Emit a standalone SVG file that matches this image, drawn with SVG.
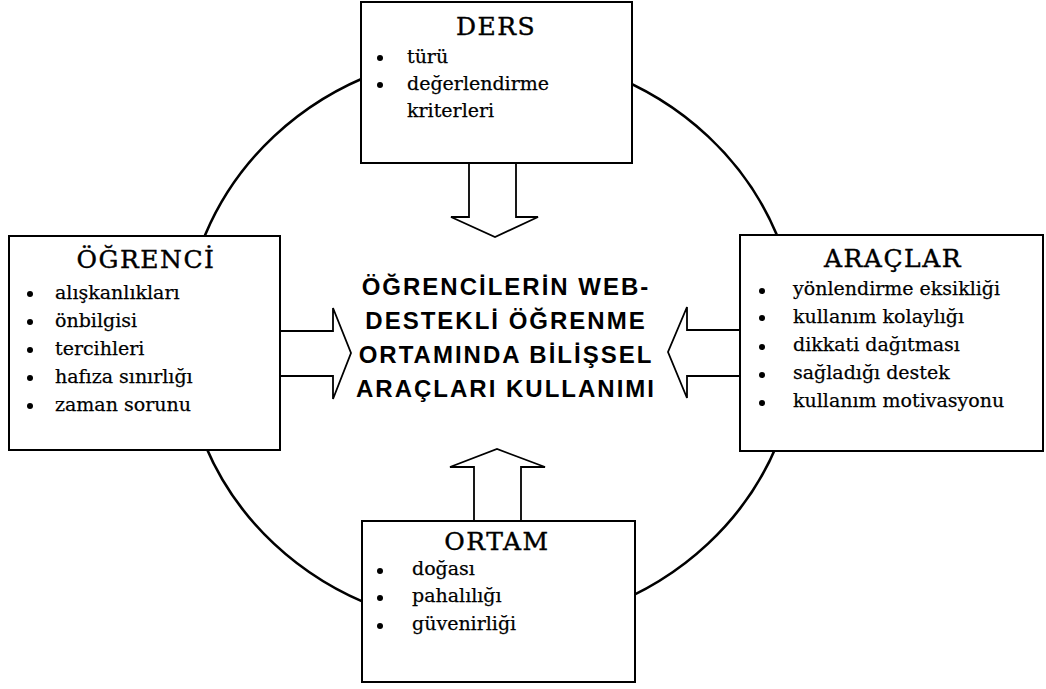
<svg xmlns="http://www.w3.org/2000/svg" width="1046" height="689" viewBox="0 0 1046 689">
<style>
.box{fill:#fff;stroke:#000;stroke-width:2}
.arr{fill:#fff;stroke:#000;stroke-width:1.8;stroke-linejoin:miter}
.ring{fill:none;stroke:#000;stroke-width:2.6}
.title{font-family:"DejaVu Serif","Liberation Serif",serif;font-size:25px;letter-spacing:1.5px;text-anchor:middle;fill:#000;stroke:#000;stroke-width:0.4}
.item{font-family:"DejaVu Serif","Liberation Serif",serif;font-size:19px;fill:#000;stroke:#000;stroke-width:0.25}
.center{font-family:"Liberation Sans",Arial,sans-serif;font-weight:bold;font-size:24px;letter-spacing:2px;text-anchor:middle;fill:#000}
.dot{fill:#000}
</style>
<rect width="1046" height="689" fill="#fff"/>
<g id="connectors">
<ellipse class="ring" cx="491" cy="340" rx="307" ry="288"/>
<path class="arr" d="M469,163 V217 H451 L495,237 L538,217 H516 V163"/>
<path class="arr" d="M474,521 V467 H450 L497,449 L545,467 H521 V521"/>
<path class="arr" d="M281,331 H333 V308 L351,353 L333,399 V376 H281"/>
<path class="arr" d="M740,330 H687 V307 L668,352 L687,398 V376 H740"/>
</g>
<g id="ders">
<rect class="box" x="361" y="2" width="271" height="161"/>
<text class="title" x="496" y="35">DERS</text>
<circle class="dot" cx="380" cy="58" r="3"/>
<circle class="dot" cx="380" cy="85" r="3"/>
<text class="item" x="407" y="63">türü</text>
<text class="item" x="407" y="90">değerlendirme</text>
<text class="item" x="407" y="117">kriterleri</text>
</g>
<g id="ogrenci">
<rect class="box" x="9" y="236" width="271" height="214"/>
<text class="title" x="146" y="268">ÖĞRENCİ</text>
<circle class="dot" cx="30" cy="294" r="3"/>
<circle class="dot" cx="30" cy="322" r="3"/>
<circle class="dot" cx="30" cy="350" r="3"/>
<circle class="dot" cx="30" cy="378" r="3"/>
<circle class="dot" cx="30" cy="406" r="3"/>
<text class="item" x="55" y="299">alışkanlıkları</text>
<text class="item" x="55" y="327">önbilgisi</text>
<text class="item" x="55" y="355">tercihleri</text>
<text class="item" x="55" y="383">hafıza sınırlığı</text>
<text class="item" x="55" y="411">zaman sorunu</text>
</g>
<g id="araclar">
<rect class="box" x="740" y="235" width="303" height="216"/>
<text class="title" x="893" y="267">ARAÇLAR</text>
<circle class="dot" cx="762" cy="291" r="3"/>
<circle class="dot" cx="762" cy="318" r="3"/>
<circle class="dot" cx="762" cy="347" r="3"/>
<circle class="dot" cx="762" cy="375" r="3"/>
<circle class="dot" cx="762" cy="403" r="3"/>
<text class="item" x="793" y="295">yönlendirme eksikliği</text>
<text class="item" x="793" y="323">kullanım kolaylığı</text>
<text class="item" x="793" y="351">dikkati dağıtması</text>
<text class="item" x="793" y="379">sağladığı destek</text>
<text class="item" x="793" y="407">kullanım motivasyonu</text>
</g>
<g id="ortam">
<rect class="box" x="362" y="521" width="273" height="161"/>
<text class="title" x="497" y="550">ORTAM</text>
<circle class="dot" cx="380" cy="571" r="3"/>
<circle class="dot" cx="380" cy="598" r="3"/>
<circle class="dot" cx="380" cy="626" r="3"/>
<text class="item" x="412" y="575">doğası</text>
<text class="item" x="412" y="602">pahalılığı</text>
<text class="item" x="412" y="630">güvenirliği</text>
</g>
<g id="center">
<text class="center" x="506" y="295">ÖĞRENCİLERİN WEB-</text>
<text class="center" x="506" y="329">DESTEKLİ ÖĞRENME</text>
<text class="center" x="506" y="363">ORTAMINDA BİLİŞSEL</text>
<text class="center" x="506" y="397">ARAÇLARI KULLANIMI</text>
</g>
</svg>
